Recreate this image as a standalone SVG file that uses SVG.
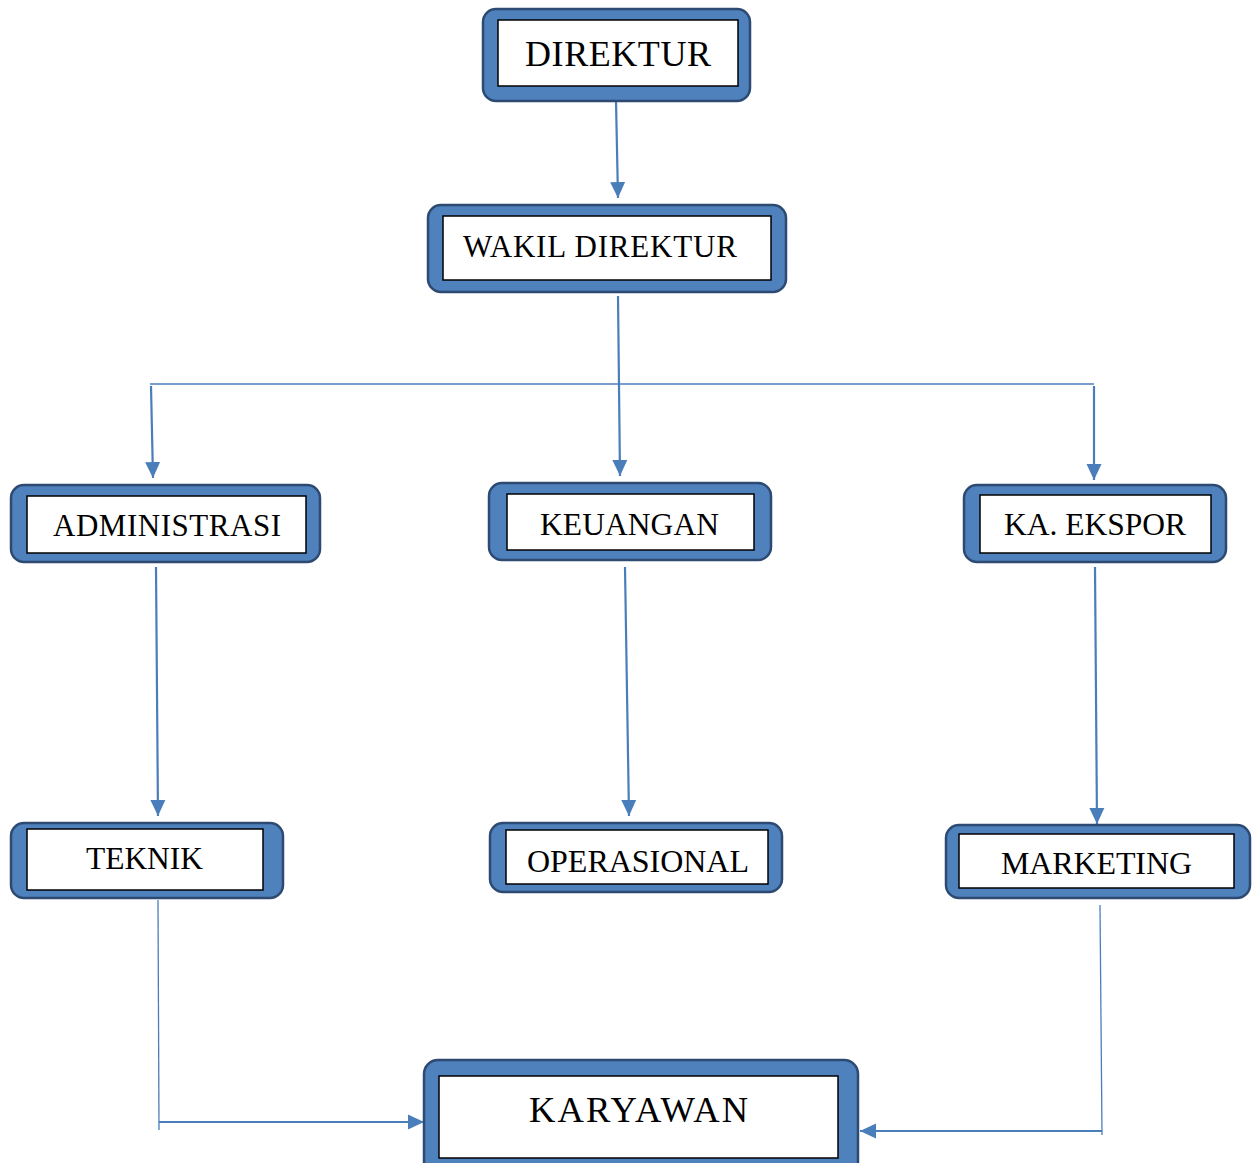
<svg xmlns="http://www.w3.org/2000/svg" width="1257" height="1163" viewBox="0 0 1257 1163">
<style>
.outer{fill:#4f81bd;stroke:#2c4a72;stroke-width:2.5}
.inner{fill:#ffffff;stroke:#000000;stroke-width:1.5}
.t{font-family:"Liberation Serif","Times New Roman",serif;fill:#000;text-anchor:middle}
.c{fill:none;stroke:#4a7ebb;stroke-width:2.2}
.c1{fill:none;stroke:#4a7ebb;stroke-width:1.3}
</style>
<defs>
<marker id="ah" markerUnits="userSpaceOnUse" markerWidth="18" markerHeight="18" viewBox="0 0 18 18" refX="16" refY="9" orient="auto">
<path d="M0,1.5 L16,9 L0,16.5 Z" fill="#4a7ebb"/>
</marker>
</defs>
<rect width="1257" height="1163" fill="#fff"/>
<g id="connectors">
<line class="c" x1="616" y1="101" x2="618" y2="198" marker-end="url(#ah)"/>
<line class="c" x1="618" y1="296" x2="620" y2="476" marker-end="url(#ah)"/>
<line class="c1" x1="150" y1="384" x2="1094" y2="384"/>
<line class="c" x1="151" y1="386" x2="153" y2="478" marker-end="url(#ah)"/>
<line class="c" x1="1094" y1="386" x2="1094" y2="480" marker-end="url(#ah)"/>
<line class="c" x1="156" y1="567" x2="158" y2="816" marker-end="url(#ah)"/>
<line class="c" x1="625" y1="567" x2="629" y2="816" marker-end="url(#ah)"/>
<line class="c" x1="1095" y1="567" x2="1097" y2="824" marker-end="url(#ah)"/>
<line class="c1" x1="158" y1="900" x2="159" y2="1130"/>
<line class="c" x1="159" y1="1122" x2="424" y2="1122" marker-end="url(#ah)"/>
<line class="c1" x1="1100" y1="905" x2="1102" y2="1135"/>
<line class="c" x1="1102" y1="1131" x2="860" y2="1131" marker-end="url(#ah)"/>
</g>
<g id="direktur">
<rect class="outer" x="483" y="9" width="267" height="92" rx="13"/>
<rect class="inner" x="498" y="20" width="240" height="66"/>
<text class="t" x="618" y="66" font-size="36" textLength="186" lengthAdjust="spacing">DIREKTUR</text>
</g>
<g id="wakil">
<rect class="outer" x="428" y="205" width="358" height="87" rx="13"/>
<rect class="inner" x="443" y="216" width="328" height="64"/>
<text class="t" x="600" y="257" font-size="31" textLength="274" lengthAdjust="spacing">WAKIL DIREKTUR</text>
</g>
<g id="administrasi">
<rect class="outer" x="11" y="485" width="309" height="77" rx="13"/>
<rect class="inner" x="27" y="496" width="279" height="57"/>
<text class="t" x="167" y="536" font-size="31" textLength="228" lengthAdjust="spacing">ADMINISTRASI</text>
</g>
<g id="keuangan">
<rect class="outer" x="489" y="483" width="282" height="77" rx="13"/>
<rect class="inner" x="507" y="494" width="247" height="56"/>
<text class="t" x="629.500" y="535" font-size="31.500" textLength="179" lengthAdjust="spacing">KEUANGAN</text>
</g>
<g id="kaekspor">
<rect class="outer" x="964" y="485" width="262" height="77" rx="13"/>
<rect class="inner" x="980" y="495" width="231" height="58"/>
<text class="t" x="1095" y="535" font-size="31.500" textLength="182" lengthAdjust="spacing">KA. EKSPOR</text>
</g>
<g id="teknik">
<rect class="outer" x="11" y="823" width="272" height="75" rx="13"/>
<rect class="inner" x="27" y="829" width="236" height="61"/>
<text class="t" x="144.500" y="869" font-size="31.500" textLength="117" lengthAdjust="spacing">TEKNIK</text>
</g>
<g id="operasional">
<rect class="outer" x="490" y="823" width="292" height="69" rx="13"/>
<rect class="inner" x="506" y="830" width="262" height="54"/>
<text class="t" x="638" y="872" font-size="32" textLength="222" lengthAdjust="spacing">OPERASIONAL</text>
</g>
<g id="marketing">
<rect class="outer" x="946" y="825" width="304" height="73" rx="13"/>
<rect class="inner" x="959" y="834" width="275" height="54"/>
<text class="t" x="1096.500" y="874" font-size="32" textLength="191" lengthAdjust="spacing">MARKETING</text>
</g>
<g id="karyawan">
<rect class="outer" x="424" y="1060" width="434" height="115" rx="14"/>
<rect class="inner" x="439" y="1076" width="399" height="82"/>
<text class="t" x="638.500" y="1122" font-size="36.500" textLength="219" lengthAdjust="spacing">KARYAWAN</text>
</g>
</svg>
